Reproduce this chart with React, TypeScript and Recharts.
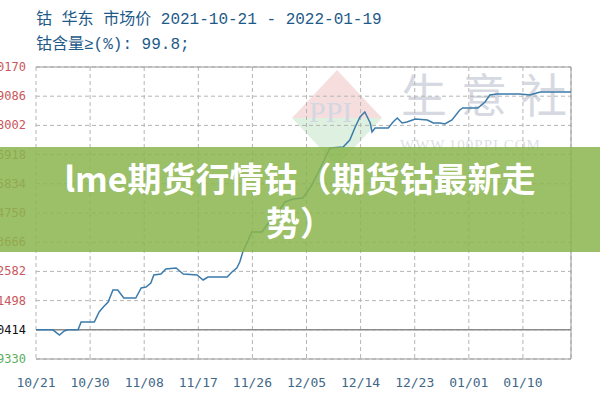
import React from 'react';
import { LineChart, Line, XAxis, YAxis, CartesianGrid, ReferenceLine } from 'recharts';

// day offsets from 2021-10-21 and 华东 cobalt market prices (元/吨)
const dayOffsets = [
  0, 2.8, 3.9, 4.7, 5.3, 7.0, 7.5, 9.7, 10.5, 11.2, 12.0, 12.8, 13.6, 14.6, 16.6, 17.5, 18.3, 19.1, 19.6,
  20.8, 21.6, 23.3, 24.5, 26.8, 27.8, 28.6, 31.8, 32.6, 33.4, 33.9, 34.4, 35.3, 35.9, 37.6, 38.4, 39.4,
  40.3, 41.4, 42.8, 44.4, 45.9, 47.3, 48.9, 51.1, 52.2, 53.1, 53.9, 54.7, 55.6, 55.9, 56.4, 58.6, 59.4,
  60.1, 60.9, 61.7, 63.1, 65.1, 66.1, 67.2, 68.0, 69.2, 70.5, 71.0, 73.5, 74.7, 75.5, 76.7, 80.5, 82.2,
  82.7, 83.9, 89,
];
const prices = [
  380414, 380414, 378440, 379959, 380414, 380414, 383375, 383375, 387171, 389069, 390967, 395522, 395522,
  392486, 392486, 396282, 396661, 398180, 401216, 401596, 403494, 403874, 401596, 401216, 399318, 400457,
  400457, 402355, 403874, 406151, 409947, 414502, 417539, 417539, 420196, 423233, 425131, 428927, 430066,
  430446, 435380, 441834, 449426, 449806, 452463, 457398, 461194, 463092, 458916, 455499, 457018, 457018,
  459296, 460814, 458916, 459296, 460435, 460055, 458916, 458916, 458537, 460055, 463851, 464610, 464610,
  466888, 469546, 469925, 469925, 469546, 469925, 470684, 470684,
];
const tickDays = [0, 9, 18, 27, 36, 45, 54, 63, 72, 81];
const tickLabels = ['10/21', '10/30', '11/08', '11/17', '11/26', '12/05', '12/14', '12/23', '01/01', '01/10'];
const priceTicks = [369330, 380414, 391498, 402582, 413666, 424750, 435834, 446918, 458002, 469086, 480170];
const basePrice = 380414;
const lastDay = 89;

const data = dayOffsets.map((d, i) => ({ day: d, price: prices[i] }));

const tickColor = (v: number) => (v > basePrice + 1 ? '#c9565a' : v < basePrice - 1 ? '#5cae5c' : '#111111');
const mono = "'DejaVu Sans Mono', 'Liberation Mono', monospace";

const LeftTick = (p: any) => (
  <text x={p.x} y={p.y} dy={4} textAnchor="end" fontSize={12} fontFamily={mono} fill={tickColor(p.payload.value)}>
    {String(p.payload.value)}
  </text>
);
const RightTick = (p: any) => (
  <text x={p.x} y={p.y} dy={4} textAnchor="start" fontSize={12} fontFamily={mono} fill={tickColor(p.payload.value)}>
    {(((p.payload.value - basePrice) / basePrice) * 100).toFixed(2)}
  </text>
);
const BottomTick = (p: any) => (
  <text x={p.x} y={p.y} dy={28} textAnchor="middle" fontSize={13} fontFamily={mono} fill="#3f6888">
    {tickLabels[tickDays.indexOf(p.payload.value)]}
  </text>
);

export default function App() {
  return (
    <div style={{ position: 'absolute', left: 0, top: 0, width: 600, height: 400, overflow: 'hidden', background: '#fff' }}>
      {/* watermark */}
      <svg width={600} height={400} style={{ position: 'absolute', left: 0, top: 0 }}>
        <polygon points="337,70 382,118 292,118" fill="#f6dede" />
        <polygon points="292,118 382,118 337,166" fill="#def0df" />
        <text x={309} y={122} fontSize={30} fontFamily="'Liberation Serif', serif" fill="#d3d7e2">PPI</text>
        <text x={401} y={112} fontSize={46} fontFamily="'Noto Sans CJK SC'" fill="#d6d9e1" letterSpacing={14}>生意社</text>
        <text x={400} y={150} fontSize={15} fontFamily="'Liberation Serif', serif" fill="#dcdfe5" letterSpacing={1}>WWW.100PPI.COM</text>
      </svg>
      <div style={{ position: 'absolute', left: 0, top: 0 }}>
        <LineChart width={600} height={400} data={data} margin={{ top: 67, right: 0, bottom: 0, left: 0 }}>
          <CartesianGrid yAxisId="left" stroke="#b5b5b5" strokeDasharray="4 3" />
          <XAxis
            dataKey="day"
            type="number"
            domain={[0, lastDay]}
            ticks={tickDays}
            interval={0}
            height={41}
            axisLine={false}
            tickLine={false}
            tickSize={0}
            tickMargin={0}
            tick={BottomTick}
          />
          <YAxis
            yAxisId="left"
            orientation="left"
            width={36}
            domain={[priceTicks[0], priceTicks[priceTicks.length - 1]]}
            ticks={priceTicks}
            interval={0}
            axisLine={false}
            tickLine={false}
            tickSize={0}
            tickMargin={10}
            tick={LeftTick}
          />
          <YAxis
            yAxisId="right"
            orientation="right"
            width={29}
            domain={[priceTicks[0], priceTicks[priceTicks.length - 1]]}
            ticks={priceTicks}
            interval={0}
            axisLine={false}
            tickLine={false}
            tickSize={0}
            tickMargin={4}
            tick={RightTick}
          />
          <ReferenceLine yAxisId="left" y={priceTicks[priceTicks.length - 1]} stroke="#9a9a9a" />
          <ReferenceLine yAxisId="left" y={basePrice} stroke="#8a8a8a" strokeWidth={1.5} />
          <ReferenceLine yAxisId="left" y={priceTicks[0]} stroke="#9a9a9a" />
          <ReferenceLine yAxisId="left" x={lastDay} stroke="#9a9a9a" />
          <Line
            yAxisId="left"
            type="linear"
            dataKey="price"
            stroke="#3b7bab"
            strokeWidth={1.5}
            dot={false}
            isAnimationActive={false}
          />
        </LineChart>
      </div>
      {/* header */}
      <div
        style={{
          position: 'absolute', left: 36, top: 10, fontSize: 16, lineHeight: '20px', color: '#1e5a88',
          fontFamily: "'Liberation Mono', 'Noto Sans CJK SC', monospace", whiteSpace: 'pre',
        }}
      >
        钴 华东 市场价 2021-10-21 - 2022-01-19
      </div>
      <div
        style={{
          position: 'absolute', left: 36, top: 35, fontSize: 16, lineHeight: '20px', color: '#1e5a88',
          fontFamily: "'Liberation Mono', 'Noto Sans CJK SC', monospace", whiteSpace: 'pre',
        }}
      >
        钴含量≥(%): 99.8;
      </div>
      {/* banner */}
      <div
        style={{
          position: 'absolute', left: 0, top: 147, width: 600, height: 105, background: 'rgba(138,181,78,0.85)',
          color: '#ffffff', fontFamily: "'Noto Sans CJK SC', sans-serif", fontWeight: 700, fontSize: 34,
          lineHeight: '44px', textAlign: 'center', paddingTop: 9, boxSizing: 'border-box', whiteSpace: 'nowrap',
        }}
      >
        <div>lme期货行情钴（期货钴最新走</div>
        <div>势）</div>
      </div>
    </div>
  );
}
